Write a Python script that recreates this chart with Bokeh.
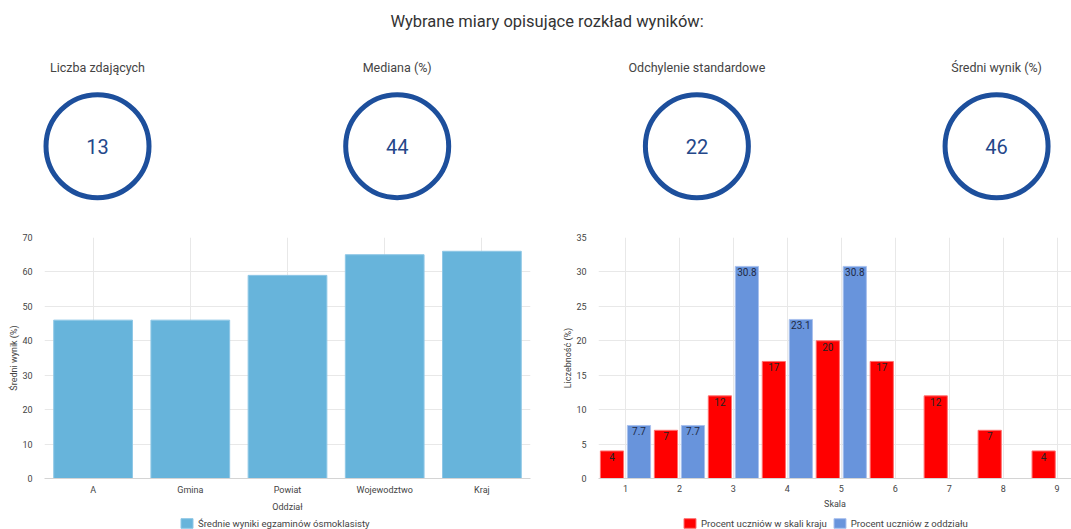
from bokeh.plotting import figure
from bokeh.layouts import column, row
from bokeh.models import (Range1d, FactorRange, ColumnDataSource, Legend, LegendItem,
                          SingleIntervalTicker, FixedTicker)
from bokeh.transform import dodge
from bokeh.core.properties import value
from bokeh.embed import file_html
from bokeh.resources import INLINE

# ---------------- data ----------------
title_text = "Wybrane miary opisujące rozkład wyników:"
kpi_labels = ["Liczba zdających", "Mediana (%)", "Odchylenie standardowe", "Średni wynik (%)"]
kpi_values = [13, 44, 22, 46]

oddzialy = ["A", "Gmina", "Powiat", "Wojewodztwo", "Kraj"]
sredni_wynik = [46, 46, 59, 65, 66]
left_series = "Średnie wyniki egzaminów ósmoklasisty"

skala = [1, 2, 3, 4, 5, 6, 7, 8, 9]
procent_kraj = [4, 7, 12, 17, 20, 17, 12, 7, 4]
procent_oddzial = [7.7, 7.7, 30.8, 23.1, 30.8, 0, 0, 0, 0]
right_series = ["Procent uczniów w skali kraju", "Procent uczniów z oddziału"]

# ---------------- style ----------------
FONT = "Roboto"
CIRCLE = "#1d4f9c"
NUM = "#24478a"
TXT = "#444444"
GRID = "#e8e8e8"
LBLUE = "#67b4db"
LBLUE_EDGE = "#8ec7e6"
RED = "#ff0000"
RED_EDGE = "#ff7070"
BLUE = "#6894dc"
BLUE_EDGE = "#a9c1ee"
AX = "9px"
LEG = "9.6px"


def style(p):
    p.outline_line_color = None
    p.grid.grid_line_color = GRID
    p.axis.axis_line_color = None
    p.axis.major_tick_line_color = None
    p.axis.minor_tick_line_color = None
    p.axis.major_label_text_font = FONT
    p.axis.major_label_text_font_size = AX
    p.axis.major_label_text_color = TXT
    p.axis.axis_label_text_font = FONT
    p.axis.axis_label_text_font_size = AX
    p.axis.axis_label_text_font_style = "normal"
    p.axis.axis_label_text_color = TXT
    p.xaxis.axis_line_color = "#d4d4d4"
    p.xaxis.major_label_standoff = 0
    p.xaxis.axis_label_standoff = 4
    p.yaxis.major_label_standoff = 6
    p.yaxis.axis_label_standoff = 0


def legend_strip(width, x_range):
    """A thin strip holding only a legend; its y range keeps the bars out of view."""
    f = figure(width=width, height=12, x_range=x_range, y_range=Range1d(1000, 1001),
               x_axis_location=None, y_axis_location=None, output_backend="svg",
               toolbar_location=None, min_border=0)
    f.outline_line_color = None
    f.grid.visible = False
    return f


def add_legend(f, items, left_offset):
    f.add_layout(Legend(items=items, orientation="horizontal", location=(left_offset, 0),
                        label_text_font=FONT, label_text_font_size=LEG,
                        label_text_color=TXT, glyph_width=15, glyph_height=12,
                        label_height=12, padding=0, margin=0, spacing=5,
                        label_standoff=4, border_line_color=None,
                        background_fill_alpha=0), "center")


# ---------------- top KPIs ----------------
top = figure(width=1071, height=225, x_range=Range1d(-0.3237, 3.25),
             y_range=Range1d(-79.3, 145.7), x_axis_location=None, y_axis_location=None,
             output_backend="svg", toolbar_location=None, min_border=0)
top.outline_line_color = None
top.grid.visible = False
idx = list(range(len(kpi_labels)))
ksrc = ColumnDataSource(dict(x=idx, label=kpi_labels, val=[str(v) for v in kpi_values]))
top.scatter(x="x", y=0, size=103, source=ksrc, fill_color=None,
            line_color=CIRCLE, line_width=5)
top.text(x="x", y=0, text="val", source=ksrc, text_font=value(FONT),
         text_font_size="20px", text_color=NUM, text_align="center",
         text_baseline="middle")
top.text(x="x", y=79, text="label", source=ksrc, text_font=value(FONT),
         text_font_size="12.5px", text_color=TXT, text_align="center",
         text_baseline="middle")
top.text(x=[sum(idx) / len(idx)], y=[125], text=[title_text], text_font=value(FONT),
         text_font_size="16.5px", text_color="#333333", text_align="center",
         text_baseline="middle")

# ---------------- left bar chart ----------------
left = figure(width=540, height=292,
              x_range=FactorRange(factors=oddzialy, range_padding=0),
              y_range=Range1d(0, 70), output_backend="svg", toolbar_location=None,
              min_border_left=44, min_border_right=10, min_border_top=12,
              min_border_bottom=39)
lsrc = ColumnDataSource(dict(x=oddzialy, top=sredni_wynik))
bar_left = dict(x="x", top="top", width=0.81, source=lsrc, fill_color=LBLUE,
                line_color=LBLUE_EDGE, line_width=1)
left.vbar(**bar_left)
style(left)
left.yaxis.ticker = SingleIntervalTicker(interval=10)
left.xaxis.axis_label = "Oddział"
left.yaxis.axis_label = "Średni wynik (%)"

# ---------------- right bar chart ----------------
right = figure(width=531, height=292,
               x_range=Range1d(0.5, 9.266), y_range=Range1d(0, 35),
               output_backend="svg", toolbar_location=None,
               min_border_left=58, min_border_right=0, min_border_top=12,
               min_border_bottom=39)
rsrc = ColumnDataSource(dict(x=skala, kraj=procent_kraj, oddz=procent_oddzial))
bar_kraj = dict(x=dodge("x", -0.25, range=right.x_range), top="kraj", width=0.43,
                source=rsrc, fill_color=RED, line_color=RED_EDGE, line_width=1)
bar_oddz = dict(x=dodge("x", 0.25, range=right.x_range), top="oddz", width=0.43,
                source=rsrc, fill_color=BLUE, line_color=BLUE_EDGE, line_width=1)
right.vbar(**bar_kraj)
right.vbar(**bar_oddz)
ksrc2 = ColumnDataSource(dict(x=skala, y=procent_kraj, t=[f"{v:g}" for v in procent_kraj]))
nz = [i for i, v in enumerate(procent_oddzial) if v > 0]
osrc2 = ColumnDataSource(dict(x=[skala[i] for i in nz], y=[procent_oddzial[i] for i in nz],
                              t=[f"{procent_oddzial[i]:g}" for i in nz]))
right.text(x=dodge("x", -0.25, range=right.x_range), y="y", text="t", source=ksrc2,
           text_font=value(FONT), text_font_size="10px", text_color="#222222",
           text_align="center", text_baseline="top", y_offset=2)
right.text(x=dodge("x", 0.25, range=right.x_range), y="y", text="t", source=osrc2,
           text_font=value(FONT), text_font_size="10px", text_color="#1f2a44",
           text_align="center", text_baseline="top", y_offset=2)
style(right)
right.xaxis.ticker = FixedTicker(ticks=skala)
right.yaxis.ticker = SingleIntervalTicker(interval=5)
right.xaxis.axis_label = "Skala"
right.yaxis.axis_label = "Liczebność (%)"

# ---------------- legends (strips below the charts) ----------------
leg_left = legend_strip(540, FactorRange(factors=oddzialy, range_padding=0))
ll = leg_left.vbar(**bar_left)
add_legend(leg_left, [LegendItem(label=left_series, renderers=[ll])], 179)

leg_right = legend_strip(531, Range1d(0.5, 9.266))
bar_kraj["x"] = dodge("x", -0.25, range=leg_right.x_range)
bar_oddz["x"] = dodge("x", 0.25, range=leg_right.x_range)
lr1 = leg_right.vbar(**bar_kraj)
lr2 = leg_right.vbar(**bar_oddz)
add_legend(leg_right, [LegendItem(label=right_series[0], renderers=[lr1]),
                       LegendItem(label=right_series[1], renderers=[lr2])], 142)

layout = column(top, row(left, right), row(leg_left, leg_right))
open("out.html", "w").write(file_html(layout, INLINE))
